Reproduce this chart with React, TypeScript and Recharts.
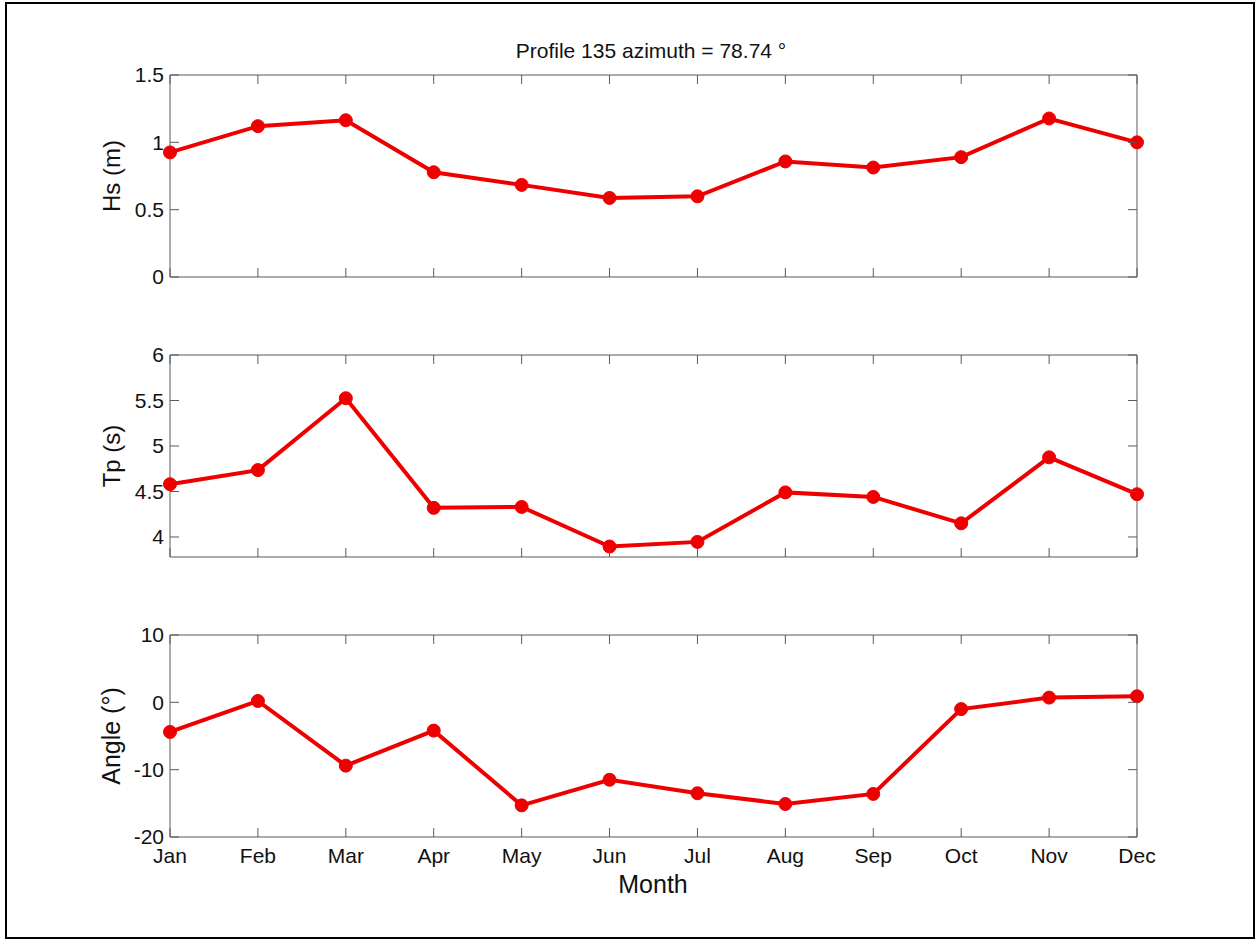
import React from 'react';
import { LineChart, Line, XAxis, YAxis } from 'recharts';

// monthly climatology for profile 135
const months = ['Jan', 'Feb', 'Mar', 'Apr', 'May', 'Jun', 'Jul', 'Aug', 'Sep', 'Oct', 'Nov', 'Dec'];
const hsValues = [0.925, 1.12, 1.164, 0.778, 0.684, 0.587, 0.599, 0.858, 0.813, 0.89, 1.177, 1.0];
const tpValues = [4.58, 4.735, 5.525, 4.32, 4.33, 3.895, 3.946, 4.49, 4.44, 4.15, 4.875, 4.47];
const angleValues = [-4.4, 0.2, -9.4, -4.2, -15.3, -11.5, -13.5, -15.1, -13.6, -1.0, 0.7, 0.9];

const hsTicks = [0, 0.5, 1, 1.5];
const tpTicks = [4, 4.5, 5, 5.5, 6];
const angleTicks = [-20, -10, 0, 10];

const FONT = '"Liberation Sans", Arial, sans-serif';
const AXIS = '#5a5a5a';
const RED = '#ee0000';
const TEXT = '#111';
const TICK = 9;

const LeftTick = (props: any) => {
    const { x, y, payload } = props;
    return (
        <g>
            <line x1={x} y1={y} x2={x + TICK} y2={y} stroke={AXIS} />
            <text x={x - 6} y={y} dy="0.35em" textAnchor="end" fontSize={21} fontFamily={FONT} fill={TEXT}>
                {String(payload.value)}
            </text>
        </g>
    );
};

const RightTick = (props: any) => {
    const { x, y } = props;
    return <line x1={x} y1={y} x2={x - TICK} y2={y} stroke={AXIS} />;
};

const TopTick = (props: any) => {
    const { x, y } = props;
    return <line x1={x} y1={y} x2={x} y2={y + TICK} stroke={AXIS} />;
};

const makeBottomTick = (showLabel: boolean) => (props: any) => {
    const { x, y, payload } = props;
    return (
        <g>
            <line x1={x} y1={y} x2={x} y2={y - TICK} stroke={AXIS} />
            {showLabel && (
                <text x={x} y={y + 26} textAnchor="middle" fontSize={21} fontFamily={FONT} fill={TEXT}>
                    {payload.value}
                </text>
            )}
        </g>
    );
};

interface PanelProps {
    values: number[];
    domain: [number, number];
    ticks: number[];
    top: number;
    showMonths: boolean;
}

const Panel = ({ values, domain, ticks, top, showMonths }: PanelProps) => {
    const data = months.map((m, i) => ({ month: m, v: values[i] }));
    return (
        <div style={{ position: 'absolute', left: 0, top }}>
            <LineChart width={1257} height={300} data={data} margin={{ top: 20, right: 100, bottom: 28, left: 110 }}>
                <XAxis xAxisId="b" dataKey="month" orientation="bottom" height={30} interval={0}
                    tickLine={false} tickSize={0} tickMargin={0} axisLine={{ stroke: AXIS }}
                    tick={makeBottomTick(showMonths)} />
                <XAxis xAxisId="t" dataKey="month" orientation="top" height={20} interval={0}
                    tickLine={false} tickSize={0} tickMargin={0} axisLine={{ stroke: AXIS }}
                    tick={TopTick} />
                <YAxis yAxisId="l" type="number" domain={domain} ticks={ticks} width={60} interval={0}
                    tickLine={false} tickSize={0} tickMargin={0} axisLine={{ stroke: AXIS }}
                    tick={LeftTick} />
                <YAxis yAxisId="r" orientation="right" type="number" domain={domain} ticks={ticks} width={20} interval={0}
                    tickLine={false} tickSize={0} tickMargin={0} axisLine={{ stroke: AXIS }}
                    tick={RightTick} />
                <Line xAxisId="t" yAxisId="r" dataKey="v" stroke="none" dot={false} activeDot={false} isAnimationActive={false} />
                <Line xAxisId="b" yAxisId="l" dataKey="v" type="linear" stroke={RED} strokeWidth={4}
                    dot={{ r: 6.5, fill: RED, stroke: RED, strokeWidth: 1 }} activeDot={false} isAnimationActive={false} />
            </LineChart>
        </div>
    );
};

const App = () => {
    return (
        <div style={{ position: 'absolute', left: 0, top: 0, width: 1257, height: 940, background: '#fff' }}>
            <div style={{
                position: 'absolute', left: 5, top: 2, width: 1250, height: 937,
                border: '2px solid #000', boxSizing: 'border-box',
            }} />
            <Panel values={hsValues} domain={[0, 1.5]} ticks={hsTicks} top={35} showMonths={false} />
            <Panel values={tpValues} domain={[3.78, 6]} ticks={tpTicks} top={315} showMonths={false} />
            <Panel values={angleValues} domain={[-20, 10]} ticks={angleTicks} top={595} showMonths={true} />
            <svg width={1257} height={940} style={{ position: 'absolute', left: 0, top: 0, pointerEvents: 'none' }}>
                <text x={651} y={58} textAnchor="middle" fontSize={21} fontFamily={FONT} fill={TEXT}>
                    Profile 135 azimuth = 78.74 °
                </text>
                <text transform="translate(120,176) rotate(-90)" textAnchor="middle" fontSize={24} fontFamily={FONT} fill={TEXT}>
                    Hs (m)
                </text>
                <text transform="translate(120,456) rotate(-90)" textAnchor="middle" fontSize={24} fontFamily={FONT} fill={TEXT}>
                    Tp (s)
                </text>
                <text transform="translate(120,736) rotate(-90)" textAnchor="middle" fontSize={25} fontFamily={FONT} fill={TEXT}>
                    Angle (°)
                </text>
                <text x={653} y={893} textAnchor="middle" fontSize={25} fontFamily={FONT} fill={TEXT}>
                    Month
                </text>
            </svg>
        </div>
    );
};

export default App;
